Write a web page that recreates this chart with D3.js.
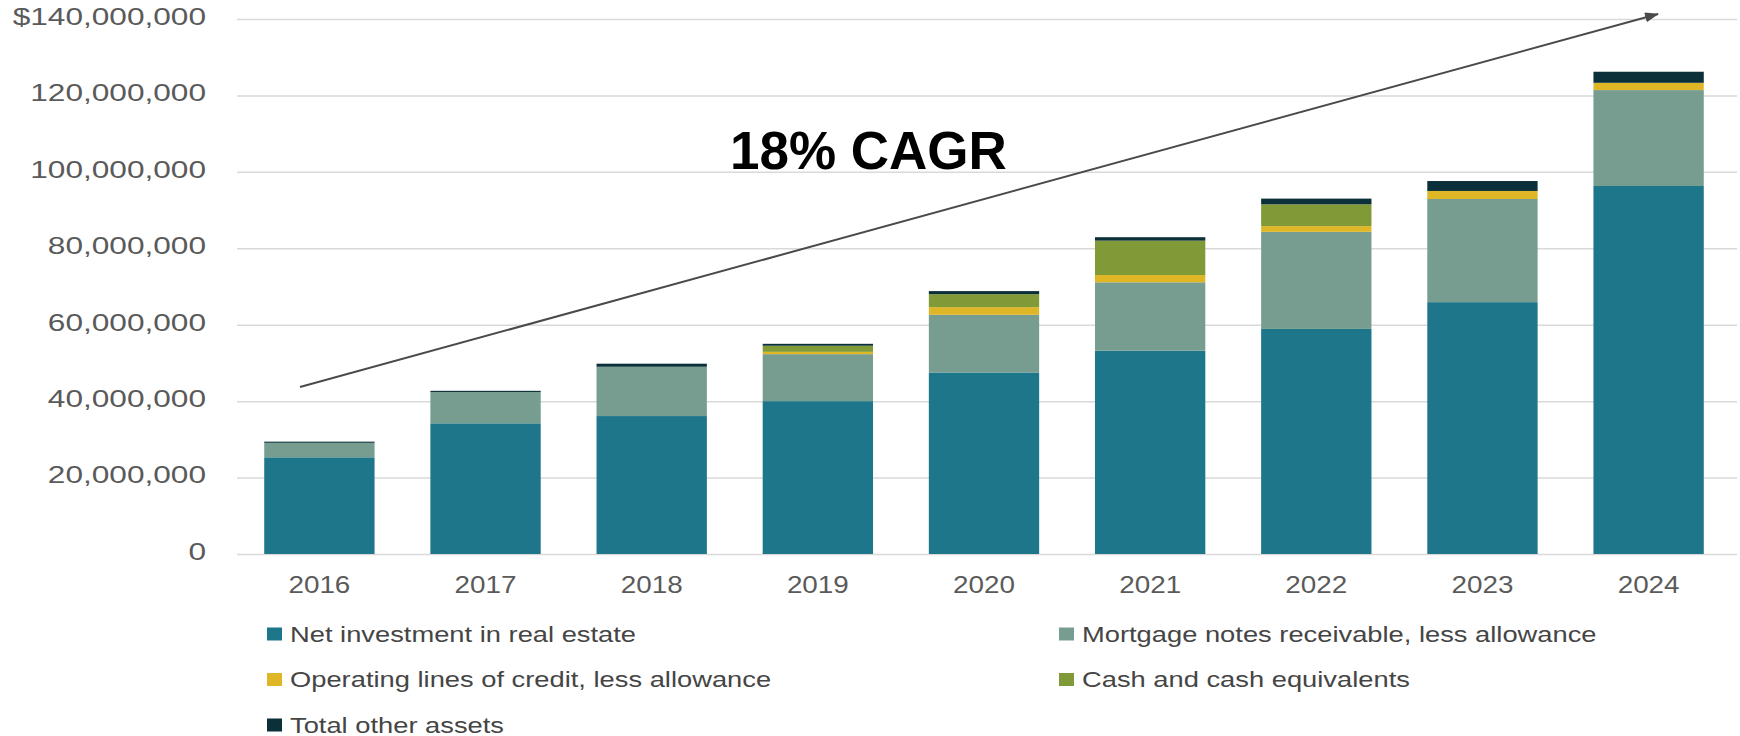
<!DOCTYPE html>
<html>
<head>
<meta charset="utf-8">
<script src="https://cdn.jsdelivr.net/npm/d3@7"></script>
<style>
  body { margin: 0; background: #fff; }
  svg { font-family: "Liberation Sans", Arial, sans-serif; }
  .axis text { fill: #5a5a5a; }
  .axis .domain { display: none; }
</style>
</head>
<body>
<svg id="vis"></svg>
<script>
// values in dollars
const years = ['2016', '2017', '2018', '2019', '2020', '2021', '2022', '2023', '2024'];
const netInvestment = [25300000, 34200000, 36100000, 40000000, 47500000, 53200000, 58900000, 65900000, 96300000];
const mortgageNotes = [3800000, 8200000, 12900000, 12300000, 15100000, 17900000, 25400000, 27000000, 25100000];
const operatingLines = [0, 0, 0, 600000, 2000000, 1900000, 1500000, 2100000, 1900000];
const cashEquivalents = [0, 0, 0, 1600000, 3400000, 9000000, 5700000, 0, 0];
const otherAssets = [300000, 300000, 800000, 500000, 800000, 900000, 1500000, 2600000, 2900000];

const seriesKeys = ['net', 'mortgage', 'operating', 'cash', 'other'];
const seriesLabels = [
  'Net investment in real estate',
  'Mortgage notes receivable, less allowance',
  'Operating lines of credit, less allowance',
  'Cash and cash equivalents',
  'Total other assets'
];
const seriesColors = ['#1e768b', '#779d90', '#dfb726', '#809a37', '#0c3039'];
const yTicks = [0, 20000000, 40000000, 60000000, 80000000, 100000000, 120000000, 140000000];
const cagrLabel = '18% CAGR';

let config = { svg: {}, plot: {}, legend: {} };
config.svg.width = 1740;
config.svg.height = 736;
config.plot.left = 237;
config.plot.right = 1737;
config.plot.top = 19;
config.plot.bottom = 554;
config.legend.cols = [267, 1059];
config.legend.y = 641.5;
config.legend.rowStep = 45.5;

const svg = d3.select('svg#vis')
  .attr('width', config.svg.width)
  .attr('height', config.svg.height);

let table = years.map((y, i) => ({
  year: y,
  net: netInvestment[i],
  mortgage: mortgageNotes[i],
  operating: operatingLines[i],
  cash: cashEquivalents[i],
  other: otherAssets[i]
}));

let scale = {};
scale.x = d3.scaleBand()
  .domain(years)
  .range([231, config.plot.right])
  .paddingInner(0.336)
  .paddingOuter(0.2);
scale.y = d3.scaleLinear()
  .domain([0, 140000000])
  .range([config.plot.bottom, config.plot.top]);
scale.color = d3.scaleOrdinal().domain(seriesKeys).range(seriesColors);

// stretch text horizontally like the source image
function stretch(sel, k) {
  sel.each(function() {
    let w = this.getComputedTextLength();
    d3.select(this)
      .attr('textLength', w * k)
      .attr('lengthAdjust', 'spacingAndGlyphs');
  });
}

// y axis + gridlines
let fmt = d3.format(',');
let gy = svg.append('g')
  .attr('class', 'axis')
  .attr('transform', translate(config.plot.left, 0))
  .call(d3.axisLeft(scale.y)
    .tickValues(yTicks)
    .tickSize(-(config.plot.right - config.plot.left))
    .tickPadding(31)
    .tickFormat(d => (d === 140000000 ? '$' : '') + fmt(d)));
gy.selectAll('line').attr('stroke', '#d9d9d9').attr('stroke-width', 1.5);
gy.selectAll('text')
  .attr('font-size', '24.5px')
  .attr('dy', '0.22em')
  .call(stretch, 1.29);

// x axis
let gx = svg.append('g')
  .attr('class', 'axis')
  .attr('transform', translate(0, config.plot.bottom))
  .call(d3.axisBottom(scale.x).tickSize(0).tickPadding(23));
gx.selectAll('text')
  .attr('font-size', '23px')
  .call(stretch, 1.21);

// stacked bars
let stacked = d3.stack().keys(seriesKeys)(table);
let plot = svg.append('g').attr('id', 'plot');
plot.selectAll('g.series')
  .data(stacked)
  .enter()
  .append('g')
  .attr('class', 'series')
  .attr('fill', d => scale.color(d.key))
  .selectAll('rect')
  .data(d => d)
  .enter()
  .append('rect')
  .attr('x', d => scale.x(d.data.year))
  .attr('y', d => scale.y(d[1]))
  .attr('width', scale.x.bandwidth())
  .attr('height', d => scale.y(d[0]) - scale.y(d[1]));

// growth arrow
let defs = svg.append('defs');
defs.append('marker')
  .attr('id', 'arrowhead')
  .attr('markerUnits', 'userSpaceOnUse')
  .attr('markerWidth', 14)
  .attr('markerHeight', 10)
  .attr('refX', 13)
  .attr('refY', 5)
  .attr('orient', 'auto')
  .append('path')
  .attr('d', 'M0,0 L14,5 L0,10 Z')
  .attr('fill', '#4a4a4a');

svg.append('line')
  .attr('x1', 300).attr('y1', 387)
  .attr('x2', 1658).attr('y2', 14)
  .attr('stroke', '#4a4a4a')
  .attr('stroke-width', 2)
  .attr('marker-end', 'url(#arrowhead)');

svg.append('text')
  .text(cagrLabel)
  .attr('x', 730)
  .attr('y', 169)
  .attr('font-size', '53px')
  .attr('font-weight', 'bold')
  .attr('fill', '#000');

// legend
let legend = svg.append('g').attr('id', 'legend');
let items = legend.selectAll('g')
  .data(seriesLabels)
  .enter()
  .append('g')
  .attr('transform', (d, i) => translate(
    config.legend.cols[i % 2],
    config.legend.y + Math.floor(i / 2) * config.legend.rowStep));

items.append('rect')
  .attr('x', 0)
  .attr('y', -14)
  .attr('width', 15)
  .attr('height', 13)
  .attr('fill', (d, i) => seriesColors[i]);

items.append('text')
  .text(d => d)
  .attr('x', 23)
  .attr('y', 0)
  .attr('font-size', '21.5px')
  .attr('fill', '#454545')
  .call(stretch, 1.27);

function translate(x, y) {
  return 'translate(' + x + ',' + y + ')';
}
</script>
</body>
</html>
